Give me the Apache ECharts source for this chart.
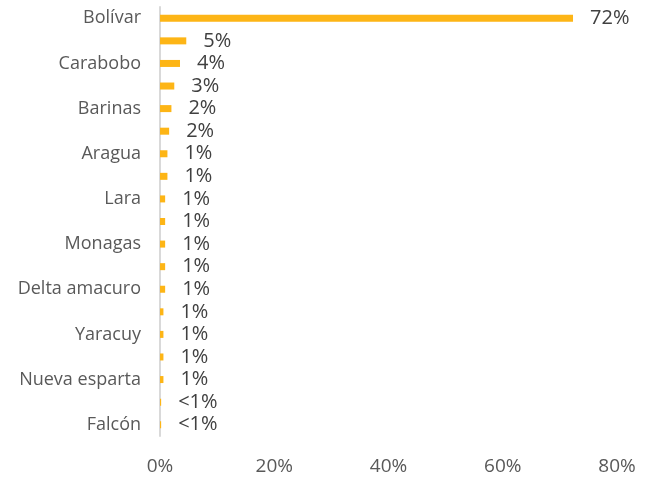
<!DOCTYPE html>
<html>
<head>
<meta charset="utf-8">
<script src="https://cdn.jsdelivr.net/npm/echarts@6/dist/echarts.min.js"></script>
<style>
  html, body { margin: 0; padding: 0; background: #fff; }
  #main { width: 651px; height: 477px; }
</style>
</head>
<body>
<div id="main"></div>
<script>
// categories, top to bottom (only every other one is labelled in the picture)
const states = [
  'Bolívar', 'Zulia', 'Carabobo', 'Miranda', 'Barinas', 'Anzoátegui',
  'Aragua', 'Táchira', 'Lara', 'Portuguesa', 'Monagas', 'Sucre',
  'Delta amacuro', 'Mérida', 'Yaracuy', 'Guárico', 'Nueva esparta', 'Cojedes', 'Falcón'
]
// share in percent
const shares = [72.3, 4.6, 3.5, 2.5, 2.0, 1.6, 1.3, 1.3, 0.9, 0.9, 0.9, 0.9, 0.9, 0.6, 0.6, 0.6, 0.6, 0.2, 0.2]
const xTicks = [0, 20, 40, 60, 80]

const fontName = 'Open Sans'
let myChart = echarts.init(document.getElementById('main'))
myChart.setOption({
  animation: false,
  grid: {
    left: 160,
    right: 34,
    top: 7,
    bottom: 41
  },
  xAxis: {
    type: 'value',
    min: xTicks[0],
    max: xTicks[xTicks.length - 1],
    interval: 20,
    axisLine: { show: false },
    axisTick: { show: false },
    splitLine: { show: false },
    axisLabel: {
      formatter: '{value}%',
      color: '#595959',
      fontFamily: fontName,
      fontSize: 19,
      margin: 21
    }
  },
  yAxis: {
    type: 'category',
    inverse: true,
    data: states,
    axisLine: { show: true, lineStyle: { color: '#d9d9d9', width: 2 } },
    axisTick: { show: false },
    axisLabel: {
      interval: 1,
      color: '#595959',
      fontFamily: fontName,
      fontSize: 18,
      margin: 19
    }
  },
  series: [
    {
      type: 'bar',
      data: shares,
      barWidth: 7,
      itemStyle: { color: '#FDB516' },
      label: {
        show: true,
        position: 'right',
        distance: 17,
        color: '#404040',
        fontFamily: fontName,
        fontSize: 20,
        formatter: function (p) {
          return p.value < 0.5 ? '<1%' : Math.round(p.value) + '%'
        }
      }
    }
  ]
})
</script>
</body>
</html>
